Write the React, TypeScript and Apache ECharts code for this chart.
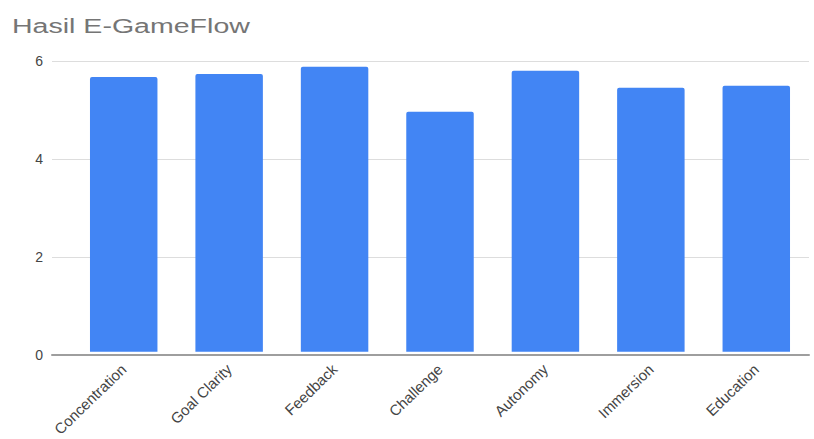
import React, { useEffect, useRef } from "react";
import * as echarts from "echarts";

const titleText = "Hasil E-GameFlow";
const categories = ["Concentration", "Goal Clarity", "Feedback", "Challenge", "Autonomy", "Immersion", "Education"];
const values = [5.67, 5.73, 5.88, 4.95, 5.8, 5.45, 5.49];
const yTicks = [0, 2, 4, 6];

const FONT = "Liberation Sans, Arial, sans-serif";

export default function App() {
  const ref = useRef<HTMLDivElement>(null);
  useEffect(() => {
    if (!ref.current) return;
    const chart = echarts.init(ref.current, undefined, { renderer: "svg" });
    const yMin = yTicks[0];
    const yMax = yTicks[yTicks.length - 1];
    const step = yTicks[1] - yTicks[0];
    chart.setOption({
      animation: false,
      backgroundColor: "#ffffff",
      textStyle: { fontFamily: FONT },
      graphic: [
        {
          type: "text",
          x: 12,
          y: 15,
          scaleX: 1.36,
          style: {
            text: titleText,
            fontSize: 21,
            fontFamily: FONT,
            fill: "#757575",
            textVerticalAlign: "top",
          },
        },
      ],
      grid: [
        { left: 71, right: 5, top: 61, bottom: 84 },
        { left: 52, right: 5, top: 61, bottom: 84 },
      ],
      xAxis: [
        {
          type: "category",
          gridIndex: 0,
          data: categories,
          axisTick: { show: false },
          axisLine: { show: false },
          axisLabel: { rotate: 44, color: "#444444", fontSize: 15, margin: 15, interval: 0 },
          z: 3,
        },
        {
          type: "value",
          gridIndex: 1,
          min: 0,
          max: 1,
          axisLabel: { show: false },
          axisTick: { show: false },
          splitLine: { show: false },
          axisLine: { show: true, lineStyle: { color: "#9e9e9e", width: 2 } },
          z: 4,
        },
      ],
      yAxis: [
        {
          type: "value",
          gridIndex: 0,
          min: yMin,
          max: yMax,
          interval: step,
          axisLabel: { show: false },
          splitLine: { show: false },
          axisLine: { show: false },
          axisTick: { show: false },
        },
        {
          type: "value",
          gridIndex: 1,
          min: yMin,
          max: yMax,
          interval: step,
          axisLabel: { color: "#444444", fontSize: 14, margin: 9 },
          splitLine: { lineStyle: { color: "#dddddd", width: 1 } },
          axisLine: { show: false },
          axisTick: { show: false },
        },
      ],
      series: [
        {
          type: "bar",
          xAxisIndex: 0,
          yAxisIndex: 0,
          data: values,
          barWidth: "64%",
          itemStyle: { color: "#4285f4", borderRadius: [2, 2, 0, 0] },
          z: 2,
        },
      ],
    });
    return () => chart.dispose();
  }, []);
  return (
    <div
      ref={ref}
      style={{ position: "absolute", left: 0, top: 0, width: 814, height: 439 }}
    />
  );
}
